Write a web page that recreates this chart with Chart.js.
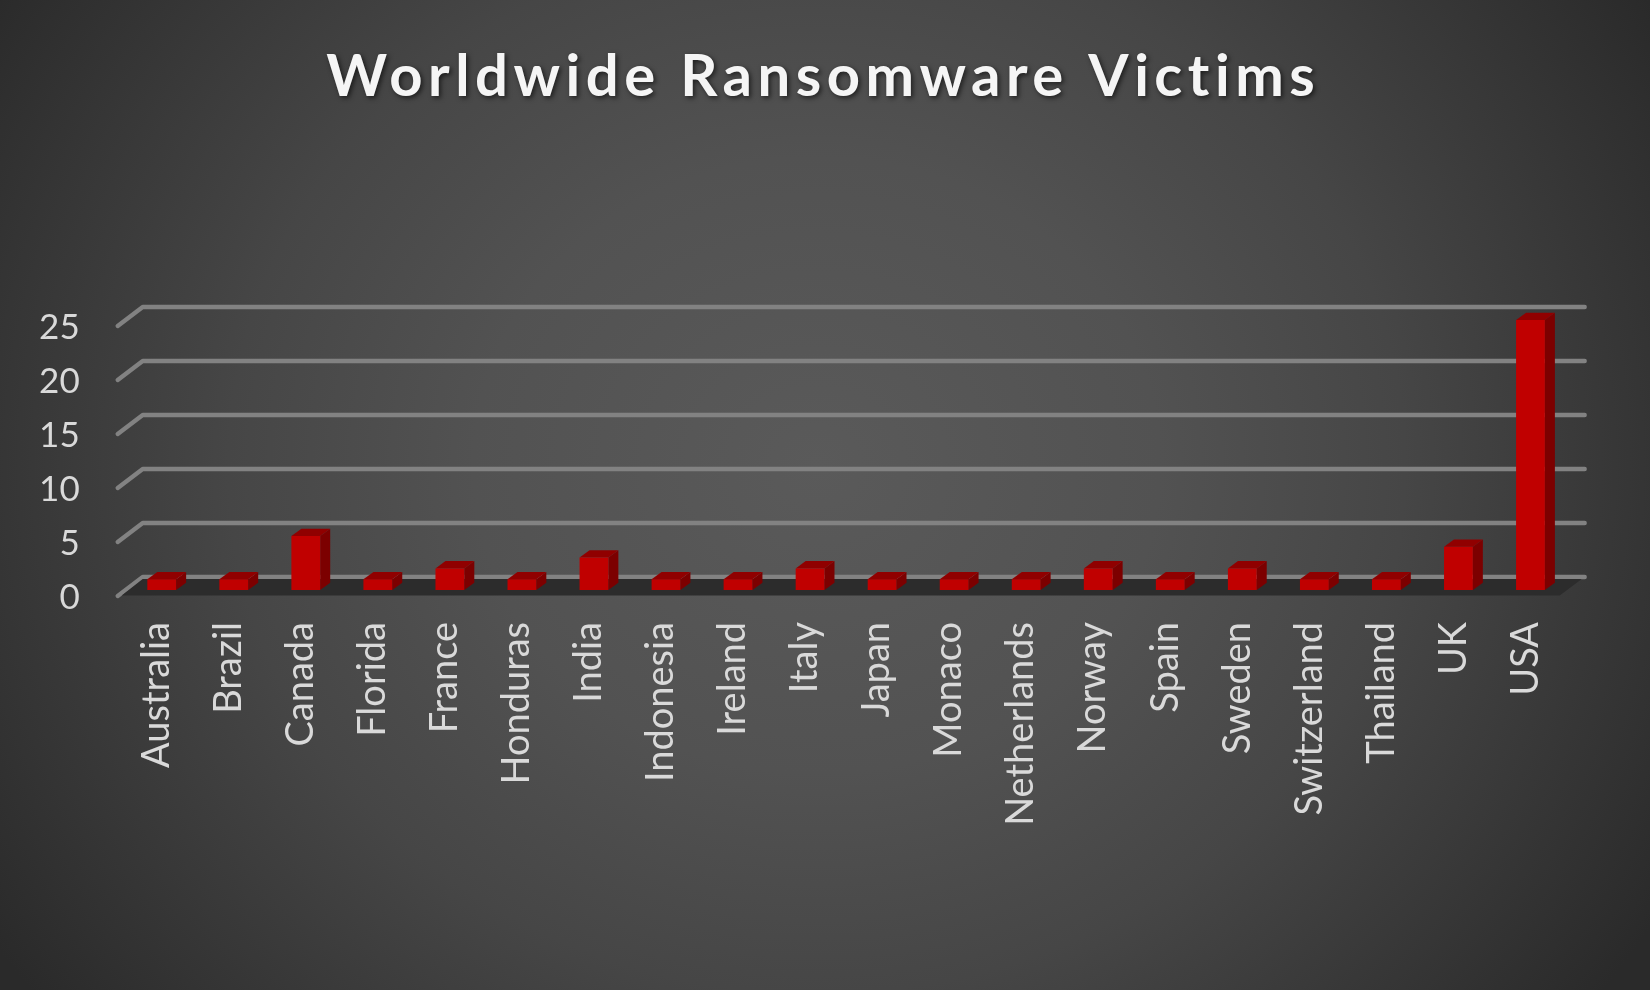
<!DOCTYPE html>
<html>
<head>
<meta charset="utf-8">
<title>Worldwide Ransomware Victims</title>
<script src="https://cdn.jsdelivr.net/npm/chart.js@4"></script>
<style>
  html, body { margin: 0; padding: 0; }
  body {
    width: 1650px; height: 990px; overflow: hidden;
    background: radial-gradient(ellipse 980px 880px at 49.5% 47%, #5a5a5a 0%, #525252 35%, #464646 60%, #2a2a2a 100%);
  }
  canvas { display: block; }
</style>
</head>
<body>
<canvas id="victims" width="1650" height="990"></canvas>
<script>
const categories = ['Australia', 'Brazil', 'Canada', 'Florida', 'France', 'Honduras', 'India', 'Indonesia', 'Ireland', 'Italy',
  'Japan', 'Monaco', 'Netherlands', 'Norway', 'Spain', 'Sweden', 'Switzerland', 'Thailand', 'UK', 'USA'];
const victims = [1, 1, 5, 1, 2, 1, 3, 1, 1, 2, 1, 1, 1, 2, 1, 2, 1, 1, 4, 25];
const yTicks = [0, 5, 10, 15, 20, 25];

// fake 3D: back wall, floor and the side/top of each bar
const depthPlugin = {
  id: 'depth',
  afterLayout(chart) {
    const t = chart.titleBlock;
    if (t.wrapped) return;
    const draw = t.draw.bind(t);
    t.draw = () => {
      const ctx = chart.ctx;
      ctx.save();
      ctx.translate(40, 0);
      ctx.letterSpacing = '5.5px';
      ctx.shadowColor = 'rgba(0,0,0,0.6)';
      ctx.shadowBlur = 5;
      ctx.shadowOffsetX = 2;
      ctx.shadowOffsetY = 2;
      draw();
      ctx.restore();
    };
    t.wrapped = true;
  },
  beforeDatasetsDraw(chart) {
    const ctx = chart.ctx;
    const y = chart.scales.y;
    const left = chart.chartArea.left;
    const y0 = y.getPixelForValue(0);

    ctx.save();
    // wall lines
    ctx.strokeStyle = '#828282';
    ctx.lineWidth = 4.4;
    ctx.lineCap = 'round';
    ctx.lineJoin = 'round';
    yTicks.forEach(v => {
      const py = y.getPixelForValue(v);
      ctx.beginPath();
      ctx.moveTo(left - 8, py + 6);
      ctx.lineTo(left + 17, py - 13);
      ctx.lineTo(left + 1459, py - 13);
      ctx.stroke();
    });

    // floor
    ctx.fillStyle = '#2c2c2c';
    ctx.beginPath();
    ctx.moveTo(left - 4, y0 + 5.5);
    ctx.lineTo(left + 17, y0 - 11);
    ctx.lineTo(left + 1456, y0 - 11);
    ctx.lineTo(left + 1434, y0 + 5.5);
    ctx.closePath();
    ctx.fill();

    // bar side and top faces
    const dx = 10, dy = 7.3;
    chart.getDatasetMeta(0).data.forEach(bar => {
      const l = bar.x - bar.width / 2, r = bar.x + bar.width / 2;
      ctx.fillStyle = '#7c0000';
      ctx.beginPath();
      ctx.moveTo(r, bar.y);
      ctx.lineTo(r + dx, bar.y - dy);
      ctx.lineTo(r + dx, bar.base - dy);
      ctx.lineTo(r, bar.base);
      ctx.closePath();
      ctx.fill();
      ctx.fillStyle = '#900000';
      ctx.beginPath();
      ctx.moveTo(l, bar.y);
      ctx.lineTo(l + dx, bar.y - dy);
      ctx.lineTo(r + dx, bar.y - dy);
      ctx.lineTo(r, bar.y);
      ctx.closePath();
      ctx.fill();
    });
    ctx.restore();
  }
};

new Chart(document.getElementById('victims'), {
  type: 'bar',
  data: {
    labels: categories,
    datasets: [{
      label: 'Victims',
      data: victims,
      backgroundColor: '#c00000',
      borderWidth: 0,
      barPercentage: 0.4,
      categoryPercentage: 1
    }]
  },
  plugins: [depthPlugin],
  options: {
    responsive: false,
    animation: false,
    layout: { padding: { left: 0, right: 83.5, top: 0, bottom: 0 } },
    plugins: {
      legend: { display: false },
      tooltip: { enabled: false },
      title: {
        display: true,
        text: 'Worldwide Ransomware Victims',
        color: '#f5f5f5',
        font: { family: 'Lato', size: 58, weight: 'bold' },
        padding: { top: 42, bottom: 208.4 }
      }
    },
    scales: {
      x: {
        grid: { display: false },
        border: { display: false },
        afterFit(s) { s.height = 400; },
        ticks: {
          color: '#d9d9d9',
          font: { family: 'Lato', size: 38 },
          minRotation: 90,
          maxRotation: 90,
          autoSkip: false,
          padding: 24,
          labelOffset: -5
        }
      },
      y: {
        min: 0,
        max: 25,
        grid: { display: false },
        border: { display: false },
        afterFit(s) { s.width = 125.7; },
        ticks: {
          color: '#d9d9d9',
          font: { family: 'Lato', size: 35 },
          stepSize: 5,
          padding: 38,
          labelOffset: 8
        }
      }
    }
  }
});
</script>
</body>
</html>
